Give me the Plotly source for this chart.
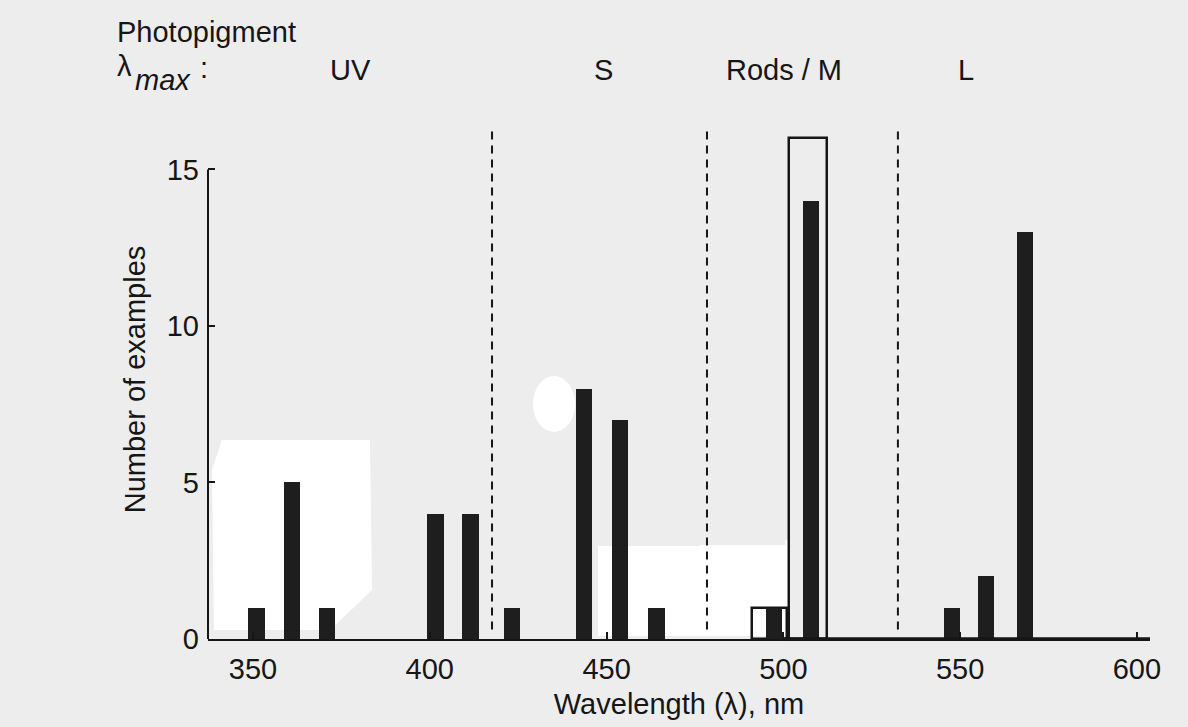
import plotly.graph_objects as go

# ---------------- data ----------------
black_wavelengths = [351, 361, 371, 401.6, 411.5, 423.2, 443.6, 453.8, 464.1,
                     497.4, 507.9, 547.8, 557.4, 568.3]
black_counts = [1, 5, 1, 4, 4, 1, 8, 7, 1, 1, 14, 1, 2, 13]

open_wavelengths = [496.0, 507.0]
open_counts = [1, 16]
open_widths = [10.0, 10.7]

boundary_wavelengths = [417.6, 478.4, 532.4]

class_labels = ["UV", "S", "Rods / M", "L"]
class_label_wavelengths = [377.7, 449.0, 500.2, 551.6]

x_ticks = [350, 400, 450, 500, 550, 600]
y_ticks = [0, 5, 10, 15]

# ---------------- geometry helpers (pixel -> paper) ----------------
W, H = 1188, 727
ML, MR, MT, MB = 208, 38, 120, 88
PW, PH = W - ML - MR, H - MT - MB


def px(xp):
    return (xp - ML) / PW


def py(yp):
    return (H - MB - yp) / PH


FONT = "Liberation Sans, Arial, Helvetica, sans-serif"
INK = "#161616"
FS = 29

fig = go.Figure()

fig.add_trace(go.Bar(
    x=open_wavelengths, y=open_counts, width=open_widths,
    marker=dict(color="rgba(0,0,0,0)", line=dict(color=INK, width=2.5)),
    showlegend=False, hoverinfo="x+y"))

fig.add_trace(go.Bar(
    x=black_wavelengths, y=black_counts, width=4.6,
    marker=dict(color="#1e1e1e", line=dict(width=0)),
    showlegend=False, hoverinfo="x+y"))

shapes = []
# white scan blotches (background artefacts)
shapes.append(dict(type="path", xref="paper", yref="paper", layer="below",
                   path=("M {a},{b} L {c},{b} L {d},{e} L {f},{g} L {h},{g} L {i},{j} Z").format(
                       a=px(222), b=py(440), c=px(370), d=px(372), e=py(590),
                       f=px(330), g=py(630), h=px(214), i=px(212), j=py(470)),
                   fillcolor="white", line=dict(width=0)))
shapes.append(dict(type="circle", xref="paper", yref="paper", layer="below",
                   x0=px(533), x1=px(575), y0=py(432), y1=py(376),
                   fillcolor="white", line=dict(width=0)))
shapes.append(dict(type="path", xref="paper", yref="paper", layer="below",
                   path=("M {a},{b} L {c},{b} L {c},{d} L {e},{d} L {e},{f} L {g},{f} L {g},{h} L {a},{h} Z").format(
                       a=px(598), b=py(546), c=px(700), d=py(545), e=px(785),
                       f=py(540), g=px(790), h=py(636)),
                   fillcolor="white", line=dict(width=0)))

# y axis line (ends at 15)
shapes.append(dict(type="line", xref="paper", yref="y", x0=0, x1=0, y0=0, y1=15,
                   line=dict(color=INK, width=2)))
# heavier baseline segment on the right part of the x axis (as printed)
shapes.append(dict(type="line", xref="x", yref="paper", x0=500, x1=603.7, y0=0, y1=0,
                   line=dict(color=INK, width=3.5)))
# photopigment class boundaries
for bw in boundary_wavelengths:
    shapes.append(dict(type="line", xref="x", yref="y", x0=bw, x1=bw, y0=0.3, y1=16.3,
                       line=dict(color=INK, width=2, dash="8px,6px")))

annotations = []
for lab, lw in zip(class_labels, class_label_wavelengths):
    annotations.append(dict(x=lw, xref="x", y=py(70), yref="paper", text=lab,
                            showarrow=False, xanchor="center", yanchor="middle",
                            font=dict(family=FONT, size=FS, color=INK)))
annotations.append(dict(x=px(115), xref="paper", y=py(32), yref="paper", text="Photopigment",
                        showarrow=False, xanchor="left", yanchor="middle",
                        font=dict(family=FONT, size=FS, color=INK)))
annotations.append(dict(x=px(115), xref="paper", y=py(66), yref="paper", text="λ",
                        showarrow=False, xanchor="left", yanchor="middle",
                        font=dict(family=FONT, size=FS, color=INK)))
annotations.append(dict(x=px(133), xref="paper", y=py(80), yref="paper", text="<i>max</i>",
                        showarrow=False, xanchor="left", yanchor="middle",
                        font=dict(family=FONT, size=FS, color=INK)))
annotations.append(dict(x=px(198), xref="paper", y=py(68), yref="paper", text=":",
                        showarrow=False, xanchor="left", yanchor="middle",
                        font=dict(family=FONT, size=FS, color=INK)))

fig.update_layout(
    width=W, height=H, autosize=False,
    margin=dict(l=ML, r=MR, t=MT, b=MB, pad=0),
    paper_bgcolor="#ededed", plot_bgcolor="rgba(0,0,0,0)",
    barmode="overlay", bargap=0,
    shapes=shapes, annotations=annotations,
    font=dict(family=FONT, size=FS, color=INK),
    xaxis=dict(range=[337.27, 603.7], tickvals=x_ticks, ticks="inside", ticklen=7,
               tickwidth=1.5, tickcolor=INK, showline=True, linecolor=INK, linewidth=2,
               showgrid=False, zeroline=False, tickfont=dict(family=FONT, size=FS, color=INK),
               ticklabelstandoff=3,
               title=dict(text="Wavelength (λ), nm", standoff=10,
                          font=dict(family=FONT, size=29, color=INK))),
    yaxis=dict(range=[0, 16.58], tickvals=y_ticks, ticks="inside", ticklen=7,
               tickwidth=1.5, tickcolor=INK, showline=False, showgrid=False, zeroline=False,
               tickfont=dict(family=FONT, size=FS, color=INK), ticklabelstandoff=8,
               title=dict(text="Number of examples", standoff=12,
                          font=dict(family=FONT, size=29, color=INK))),
)

fig.write_html("out.html")
